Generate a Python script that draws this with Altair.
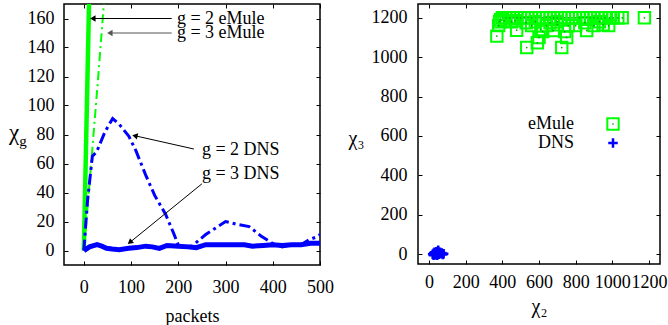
import math
import altair as alt
import pandas as pd

FONT = "Liberation Serif"
GREEN = "#00ff00"
BLUE = "#0000ff"

# ---------------- left panel data ----------------
emule2_x = [0, 11, 22]
emule2_y = [0, 170, 340]
emule3_x = [0, 10, 20, 30, 40, 50]
emule3_y = [0, 38, 78, 118, 160, 200]
dns2_x = [0, 8, 18, 27, 45, 61, 75, 95, 110, 131, 150, 173, 190, 201, 215, 229, 258, 300, 325, 350, 375, 399, 420, 440, 460, 477, 490, 500]
dns2_y = [0, 35, 65, 68, 82, 91, 87, 79, 69, 52, 38, 25, 12, 3, 3, 3, 11, 20, 18, 16.5, 10, 5, 2.5, 4, 4, 7.5, 9, 11]
dns3_x = [0, 5, 12, 28, 38, 48, 60, 75, 95, 112, 131, 145, 160, 176, 200, 220, 238, 258, 300, 340, 357, 380, 400, 420, 440, 460, 480, 500]
dns3_y = [0, 1, 2.5, 4, 3, 1.5, 1, 0.5, 1.5, 2, 3, 2.5, 1.5, 3.5, 3, 2.5, 2, 4, 4, 4, 3, 3.5, 4, 3.5, 4, 4, 5, 5]

left_xticks = [0, 100, 200, 300, 400, 500]
left_yticks = [0, 20, 40, 60, 80, 100, 120, 140, 160]
left_xdom = [-42, 500]
left_ydom = [-10, 170]

# annotations
ann_text = ["g = 2 eMule", "g = 3 eMule", "g = 2 DNS", "g = 3 DNS"]
ann_tx = [197, 197, 250, 250]
ann_ty = [160, 150, 69, 53]
arr_x0 = [186, 186, 233, 250]
arr_y0 = [160, 150, 70, 46]
arr_x1 = [21, 57, 110, 99]
arr_y1 = [160, 150, 79, 6]
arr_color = ["black", "#555555", "black", "black"]

# ---------------- right panel data ----------------
emule_chi2 = [370, 533, 724, 591, 600, 478, 380, 385, 751, 678, 860, 610, 620, 740, 980, 950, 900, 800,
              760, 700, 560, 640, 1175, 1054, 1030, 1005, 985, 960, 940, 920, 900, 880, 860, 840, 820,
              800, 780, 760, 740, 720, 700, 680, 660, 640, 620, 600, 580, 560, 540, 520, 500, 480, 460,
              440, 420, 400, 390, 410, 450, 530, 580, 660, 700, 850, 930, 470]
emule_chi3 = [1107, 1049, 1049, 1073, 1100, 1137, 1160, 1180, 1100, 1135, 1135, 1140, 1130, 1130, 1160, 1165, 1160, 1160,
              1160, 1165, 1160, 1160, 1200, 1200, 1200, 1200, 1200, 1200, 1200, 1200, 1200, 1200, 1200, 1200, 1200,
              1200, 1200, 1200, 1200, 1200, 1200, 1200, 1200, 1200, 1200, 1200, 1200, 1200, 1200, 1200, 1200, 1200, 1200,
              1200, 1200, 1200, 1190, 1185, 1180, 1175, 1180, 1175, 1180, 1175, 1180, 1185]
dns_chi2 = [20, 25, 30, 35, 40, 45, 50, 55, 60, 40, 30, 65, 70, 80, 50, 45, 35, 60, 75, 25]
dns_chi3 = [0, 5, 10, -3, 2, 8, 15, 0, 5, 12, -2, 3, 6, 2, 20, -5, 6, 10, -2, -6]

right_ticks = [0, 200, 400, 600, 800, 1000, 1200]
right_xdom = [-60, 1260]
right_ydom = [-50, 1270]

LW, LH = 256, 261
RW, RH = 242, 260

# ---------------- helpers ----------------
def axis(orient, values, title=None, labels=True, tfs=18, **kw):
    return alt.Axis(orient=orient, values=values, title=title, labels=labels, domain=False,
                    grid=False, offset=-4, tickSize=4, tickColor="black", tickWidth=1,
                    labelFont=FONT, labelFontSize=18, labelColor="black", labelFlush=False,
                    labelOverlap=False, format="d", titleFont=FONT, titleFontSize=tfs, titleColor="black",
                    titleFontWeight="normal", **kw)

one = pd.DataFrame({"k": [0]})

# ---------------- left chart ----------------
lx = alt.Scale(domain=left_xdom, nice=False, zero=False)
ly = alt.Scale(domain=left_ydom, nice=False, zero=False)

def line_layer(xs, ys, color, width, dash=None, show_axis=False):
    df = pd.DataFrame({"x": xs, "y": ys})
    kw = dict(color=color, strokeWidth=width, clip=True, interpolate="linear")
    if dash:
        kw["strokeDash"] = dash
    if show_axis:
        xax = axis("bottom", left_xticks, "packets", labelPadding=13, titlePadding=11)
        yax = axis("left", left_yticks, None, labelPadding=10)
    else:
        xax = None
        yax = None
    return alt.Chart(df).mark_line(**kw).encode(
        x=alt.X("x:Q", scale=lx, axis=xax),
        y=alt.Y("y:Q", scale=ly, axis=yax),
        order="x:Q",
    )

l_e2 = line_layer(emule2_x, emule2_y, GREEN, 4.5, show_axis=True)
l_e3 = line_layer(emule3_x, emule3_y, GREEN, 2, [9, 4, 2, 4])
l_d2 = line_layer(dns2_x, dns2_y, BLUE, 3, [11, 4, 3, 4])
l_d3 = line_layer(dns3_x, dns3_y, BLUE, 5)

mirror_left = alt.Chart(one).mark_point(opacity=0).encode(
    x=alt.X("k:Q", scale=lx, axis=axis("top", left_xticks, None, labels=False)),
    y=alt.Y("k:Q", scale=ly, axis=axis("right", left_yticks, None, labels=False)),
)

xs_px = LW / (left_xdom[1] - left_xdom[0])
ys_px = LH / (left_ydom[1] - left_ydom[0])
angles = []
for a, b, c, d in zip(arr_x0, arr_y0, arr_x1, arr_y1):
    dx = (c - a) * xs_px
    dy = -(d - b) * ys_px
    angles.append((math.degrees(math.atan2(dx, -dy)) + 360) % 360)

ann_df = pd.DataFrame({"text": ann_text, "tx": ann_tx, "ty": ann_ty,
                       "x0": arr_x0, "y0": arr_y0, "x1": arr_x1, "y1": arr_y1,
                       "col": arr_color, "ang": angles})

arrows = alt.Chart(ann_df).mark_rule(strokeWidth=1).encode(
    x=alt.X("x0:Q", scale=lx, axis=None), y=alt.Y("y0:Q", scale=ly, axis=None),
    x2="x1:Q", y2="y1:Q",
    color=alt.Color("col:N", scale=None),
)
heads = alt.Chart(ann_df).mark_point(shape="triangle", filled=True, size=40, opacity=1).encode(
    x=alt.X("x1:Q", scale=lx, axis=None), y=alt.Y("y1:Q", scale=ly, axis=None),
    angle=alt.Angle("ang:Q", scale=None),
    color=alt.Color("col:N", scale=None),
)
ann_txt = alt.Chart(ann_df).mark_text(font=FONT, fontSize=18, align="left", baseline="middle", color="black").encode(
    x=alt.X("tx:Q", scale=lx, axis=None), y=alt.Y("ty:Q", scale=ly, axis=None), text="text:N"
)

chi_main = alt.Chart(one).mark_text(font=FONT, fontSize=23, align="center", baseline="middle", color="black").encode(
    x=alt.value(-50), y=alt.value(129), text=alt.value("χ"))
chi_sub = alt.Chart(one).mark_text(font=FONT, fontSize=15, align="center", baseline="middle", color="black").encode(
    x=alt.value(-41), y=alt.value(137), text=alt.value("g"))

left = alt.layer(l_e2, l_e3, l_d2, l_d3, mirror_left, arrows, heads, ann_txt, chi_main, chi_sub).resolve_axis(
    x="independent", y="independent").properties(width=LW, height=LH)

# ---------------- right chart ----------------
rx = alt.Scale(domain=right_xdom, nice=False, zero=False)
ry = alt.Scale(domain=right_ydom, nice=False, zero=False)

emule_df = pd.DataFrame({"x": emule_chi2, "y": emule_chi3})
dns_df = pd.DataFrame({"x": dns_chi2, "y": dns_chi3})

xa = axis("bottom", right_ticks, "χ₂", tfs=20, labelPadding=9, titlePadding=5)
ya = axis("left", right_ticks, "χ₃", tfs=20, labelPadding=11, titleAngle=0, titleX=-66, titleY=134,
          titleBaseline="middle", titleAlign="center")

SQ = 130
sq = alt.Chart(emule_df).mark_point(shape="square", filled=False, color=GREEN, strokeWidth=2, size=SQ, opacity=1).encode(
    x=alt.X("x:Q", scale=rx, axis=xa), y=alt.Y("y:Q", scale=ry, axis=ya))
sq_dot = alt.Chart(emule_df).mark_point(shape="circle", filled=True, color="#00aa00", size=3, opacity=1).encode(
    x=alt.X("x:Q", scale=rx, axis=None), y=alt.Y("y:Q", scale=ry, axis=None))
PLUS = "M-1,0H1M0,-1V1"
plus = alt.Chart(dns_df).mark_point(shape=PLUS, filled=False, color=BLUE, strokeWidth=2.5, size=90, opacity=1).encode(
    x=alt.X("x:Q", scale=rx, axis=None), y=alt.Y("y:Q", scale=ry, axis=None))

mirror_right = alt.Chart(one).mark_point(opacity=0).encode(
    x=alt.X("k:Q", scale=rx, axis=axis("top", right_ticks, None, labels=False)),
    y=alt.Y("k:Q", scale=ry, axis=axis("right", right_ticks, None, labels=False)),
)

leg_names = ["eMule", "DNS"]
leg_e_txt = alt.Chart(one).mark_text(font=FONT, fontSize=18, align="right", baseline="middle", color="black").encode(
    x=alt.value(156), y=alt.value(120), text=alt.value(leg_names[0]))
leg_d_txt = alt.Chart(one).mark_text(font=FONT, fontSize=18, align="right", baseline="middle", color="black").encode(
    x=alt.value(156), y=alt.value(139), text=alt.value(leg_names[1]))
leg_sq = alt.Chart(one).mark_point(shape="square", filled=False, color=GREEN, strokeWidth=2, size=SQ, opacity=1).encode(
    x=alt.value(195), y=alt.value(120))
leg_dot = alt.Chart(one).mark_point(shape="circle", filled=True, color="#00aa00", size=3, opacity=1).encode(
    x=alt.value(195), y=alt.value(120))
leg_plus = alt.Chart(one).mark_point(shape=PLUS, filled=False, color=BLUE, strokeWidth=2.5, size=90, opacity=1).encode(
    x=alt.value(195), y=alt.value(139))

right = alt.layer(sq, sq_dot, plus, mirror_right, leg_e_txt, leg_d_txt, leg_sq, leg_dot, leg_plus).resolve_axis(
    x="independent", y="independent").properties(width=RW, height=RH)

chart = alt.hconcat(left, right, spacing=12).properties(
    padding={"left": 8, "top": 2, "right": 0, "bottom": 0}, background="white"
).configure(font=FONT).configure_view(stroke="black", strokeWidth=1.5).configure_axis(
    labelFont=FONT, titleFont=FONT, labelColor="black", titleColor="black"
).configure_text(font=FONT)

chart.save("out.html", embed_options={"renderer": "svg", "actions": False})
